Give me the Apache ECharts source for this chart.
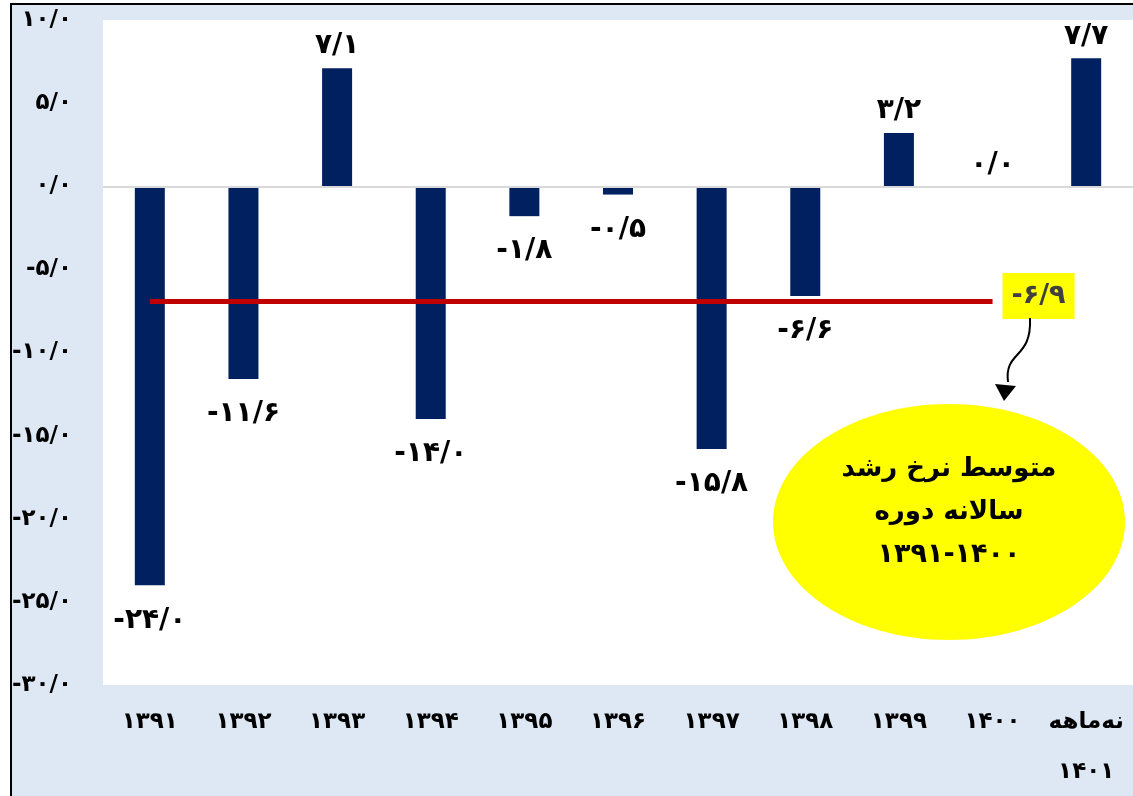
<!DOCTYPE html>
<html><head><meta charset="utf-8">
<script src="https://cdn.jsdelivr.net/npm/echarts@6/dist/echarts.min.js"></script>
<style>
html,body{margin:0;padding:0;background:#fff;}
#frame{position:absolute;left:10px;top:3px;width:1130px;height:800px;background:#dde8f4;border-left:2px solid #000;border-top:2px solid #000;}
#c{position:absolute;left:0;top:0;width:1133px;height:796px;}
</style></head>
<body>
<div id="frame"></div>
<div id="c"></div>
<script>
const categories = ['۱۳۹۱','۱۳۹۲','۱۳۹۳','۱۳۹۴','۱۳۹۵','۱۳۹۶','۱۳۹۷','۱۳۹۸','۱۳۹۹','۱۴۰۰','نه‌ماهه\n۱۴۰۱'];
const growth = [-24.0, -11.6, 7.1, -14.0, -1.8, -0.5, -15.8, -6.6, 3.2, 0.0, 7.7];
const averageGrowth = -6.9;
const averageFrom = '۱۳۹۱';
const averageTo = '۱۴۰۰';
const noteLines = ['متوسط نرخ رشد', 'سالانه دوره', '۱۳۹۱-۱۴۰۰'];

const fa = '۰۱۲۳۴۵۶۷۸۹';
function toFa(v){
  return v.toFixed(1).replace(/[0-9]/g, d => fa[+d]).replace('.', '/');
}
const font = '"DejaVu Sans", sans-serif';

const chart = echarts.init(document.getElementById('c'));
chart.setOption({
  backgroundColor: 'transparent',
  animation: false,
  grid: {left: 103, right: 0, top: 20, bottom: 111, show: true, backgroundColor: '#ffffff', borderWidth: 0,
         containLabel: false, outerBoundsMode: 'none'},
  xAxis: {
    type: 'category', data: categories, position: 'bottom',
    axisLine: {show: false, onZero: false}, axisTick: {show: false},
    axisLabel: {color: '#000', fontSize: 23, fontWeight: 'bold', fontFamily: font, margin: 12, lineHeight: 50, interval: 0}
  },
  yAxis: {
    type: 'value', min: -30, max: 10, interval: 5,
    axisLine: {show: false}, axisTick: {show: false}, splitLine: {show: false},
    axisLabel: {color: '#000', fontSize: 23, fontWeight: 'bold', fontFamily: font, margin: 31, formatter: v => toFa(v)}
  },
  series: [{
    type: 'bar',
    barWidth: 30,
    itemStyle: {color: '#002060'},
    data: growth.map(v => ({value: v, label: {position: v < 0 ? 'bottom' : 'top', distance: v < 0 ? 21 : 8}})),
    label: {show: true, color: '#000', fontSize: 28, fontWeight: 'bold', fontFamily: font, formatter: p => toFa(p.value)},
    markLine: {
      silent: true, symbol: 'none',
      data: [
        {yAxis: 0, lineStyle: {color: '#d9d9d9', width: 2, type: 'solid'}, label: {show: false}},
        [
          {coord: [averageFrom, averageGrowth]},
          {coord: [averageTo, averageGrowth],
           lineStyle: {color: '#c00000', width: 5, type: 'solid'},
           label: {show: true, position: 'end', distance: 10, offset: [0, -5], formatter: toFa(averageGrowth),
                   backgroundColor: '#ffff00', color: '#404040', fontSize: 27, fontWeight: 'bold',
                   fontFamily: font, padding: [10, 9, 9, 9]}}
        ]
      ]
    }
  }],
  graphic: [
    {type: 'bezierCurve', z: 100, shape: {x1: 1030, y1: 318, x2: 1008, y2: 382, cpx1: 1032, cpy1: 360, cpx2: 1004, cpy2: 350},
     style: {stroke: '#000', lineWidth: 2, fill: null}},
    {type: 'polygon', z: 100, shape: {points: [[995, 384], [1016, 386], [1004, 401]]}, style: {fill: '#000'}},
    {type: 'ellipse', z: 90, shape: {cx: 949, cy: 522, rx: 176, ry: 118}, style: {fill: '#ffff00'}},
    {type: 'text', z: 95, style: {x: 949, y: 469, text: noteLines[0], fill: '#000', font: 'bold 26px ' + font, textAlign: 'center', textVerticalAlign: 'middle'}},
    {type: 'text', z: 95, style: {x: 949, y: 512, text: noteLines[1], fill: '#000', font: 'bold 26px ' + font, textAlign: 'center', textVerticalAlign: 'middle'}},
    {type: 'text', z: 95, style: {x: 949, y: 555, text: noteLines[2], fill: '#000', font: 'bold 27px ' + font, textAlign: 'center', textVerticalAlign: 'middle'}}
  ]
});
</script>
</body></html>
